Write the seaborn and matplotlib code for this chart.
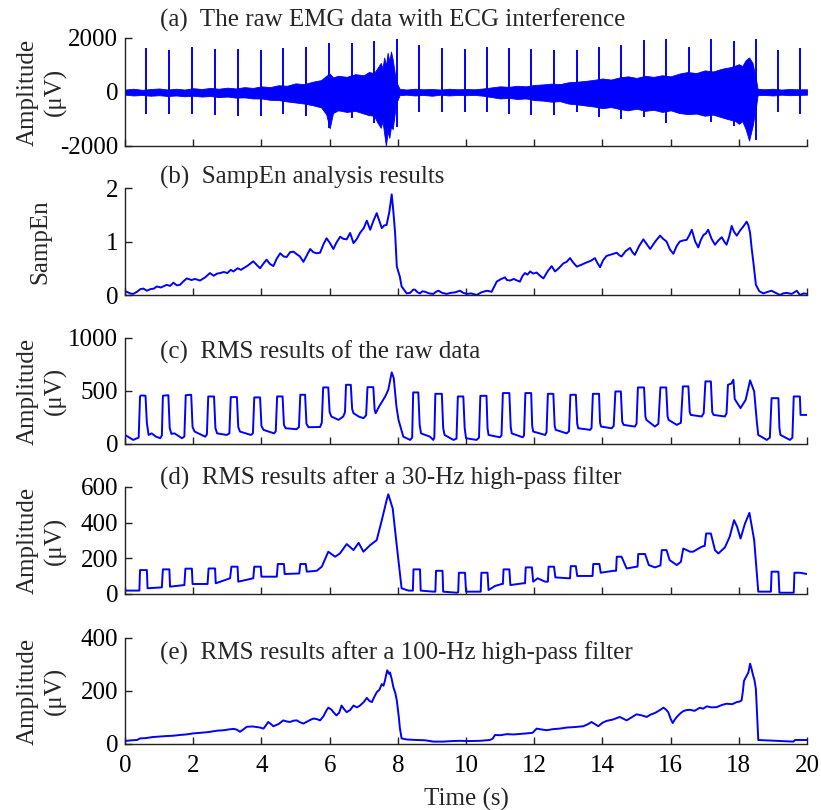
import numpy as np
import matplotlib
matplotlib.use("Agg")
import matplotlib.pyplot as plt
import seaborn as sns
import pandas as pd

# ---- (a) raw EMG: envelope of the dense EMG band + ECG spikes ----
emg_t = [0.00, 0.25, 0.50, 0.75, 1.00, 1.25, 1.50, 1.75, 2.00, 2.25, 2.50, 2.75,
         3.00, 3.25, 3.50, 3.75, 4.00, 4.25, 4.50, 4.75, 5.00, 5.25, 5.50, 5.75,
         5.90, 6.00, 6.10, 6.25, 6.50, 6.75, 7.00, 7.15, 7.30, 7.40, 7.50, 7.55,
         7.60, 7.65, 7.70, 7.75, 7.80, 7.85, 7.90, 7.95, 8.05, 8.25, 8.50, 8.75,
         9.00, 9.25, 9.50, 9.75, 10.00, 10.25, 10.50, 10.75, 11.00, 11.25, 11.50,
         11.75, 12.00, 12.25, 12.50, 12.75, 13.00, 13.25, 13.50, 13.75, 14.00,
         14.25, 14.50, 14.75, 15.00, 15.25, 15.50, 15.75, 16.00, 16.25, 16.50,
         16.75, 17.00, 17.25, 17.50, 17.75, 17.90, 18.00, 18.10, 18.20, 18.30,
         18.40, 18.50, 18.55, 18.75, 19.00, 19.25, 19.50, 19.75, 20.00]
emg_hi = [90, 120, 80, 110, 130, 90, 120, 90, 140, 110, 150, 120,
          160, 130, 180, 150, 210, 180, 250, 230, 320, 290, 380, 440,
          600, 680, 540, 600, 560, 660, 620, 740, 700, 880, 1080, 880,
          1280, 980, 1450, 1150, 1500, 1200, 780, 380, 120, 90, 120, 100,
          110, 90, 120, 100, 110, 100, 130, 170, 210, 190, 230,
          210, 260, 280, 310, 290, 360, 380, 410, 450, 500,
          460, 540, 580, 520, 600, 560, 620, 580, 680, 740,
          700, 800, 760, 860, 920, 980, 1030, 960, 1180, 1280,
          1080, 480, 120, 100, 120, 90, 110, 100, 100]
emg_lo = [-100, -130, -110, -140, -120, -150, -130, -160, -140, -170, -150, -190,
          -170, -210, -200, -240, -240, -290, -300, -350, -390, -430, -490, -570,
          -830, -1350, -780, -680, -740, -700, -800, -860, -880, -1130, -1330, -1080,
          -1550, -2000, -1480, -1700, -1280, -1380, -880, -420, -120, -100, -130, -110,
          -140, -100, -130, -110, -120, -110, -140, -190, -240, -220, -260,
          -240, -300, -320, -360, -340, -430, -460, -500, -540, -600,
          -560, -630, -680, -620, -700, -660, -740, -680, -780, -820,
          -800, -880, -840, -940, -1030, -1080, -1180, -1080, -1380, -1800,
          -1280, -580, -120, -110, -130, -100, -120, -110, -100]

beat_t = [0.61, 1.29, 1.96, 2.63, 3.30, 3.98, 4.64, 5.31, 5.99, 6.66, 7.30, 7.97,
          8.63, 9.30, 9.96, 10.61, 11.26, 11.91, 12.57, 13.24, 13.89, 14.55,
          15.22, 15.87, 16.53, 17.19, 17.85, 18.50, 19.15, 19.79]
beat_peak = [1630, 1570, 1660, 1590, 1590, 1540, 1630, 1650, 1810, 1810, 1880, 1960,
             1730, 1630, 1590, 1650, 1630, 1590, 1570, 1570, 1650, 1730,
             1940, 1960, 1660, 1960, 1880, 1960, 1570, 1630]
beat_trough = [-800, -820, -820, -850, -880, -900, -820, -900, -1350, -980, -1150, -1300,
               -730, -730, -730, -730, -800, -850, -850, -730, -920, -1000,
               -920, -1140, -800, -1100, -1260, -1790, -730, -800]

# ---- (b) SampEn ----
se_t = [0.00, 0.05, 0.15, 0.24, 0.35, 0.45, 0.54, 0.64, 0.75, 0.85, 0.93, 1.05,
        1.22, 1.32, 1.42, 1.52, 1.61, 1.72, 1.81, 1.95, 2.05, 2.20, 2.35, 2.49,
        2.60, 2.70, 2.79, 2.90, 3.00, 3.10, 3.18, 3.30, 3.40, 3.47, 3.60, 3.70,
        3.76, 3.85, 3.96, 4.05, 4.15, 4.25, 4.35, 4.45, 4.55, 4.65, 4.74, 4.84,
        4.94, 5.04, 5.13, 5.23, 5.33, 5.43, 5.52, 5.62, 5.72, 5.82, 5.91, 6.00,
        6.11, 6.20, 6.31, 6.40, 6.50, 6.60, 6.70, 6.80, 6.89, 7.00, 7.09, 7.19,
        7.28, 7.38, 7.45, 7.53, 7.60, 7.67, 7.75, 7.82, 7.87, 7.92, 7.97, 8.06,
        8.11, 8.20, 8.26, 8.36, 8.45, 8.50, 8.58, 8.65, 8.72, 8.80, 8.92, 9.04,
        9.12, 9.19, 9.30, 9.43, 9.55, 9.68, 9.82, 9.92, 10.02, 10.15, 10.31,
        10.45, 10.61, 10.68, 10.75, 10.82, 10.90, 11.00, 11.14, 11.20, 11.29,
        11.40, 11.50, 11.58, 11.66, 11.73, 11.80, 11.88, 11.97, 12.07, 12.17,
        12.27, 12.40, 12.51, 12.61, 12.72, 12.85, 12.95, 13.05, 13.15, 13.25,
        13.40, 13.54, 13.66, 13.78, 13.85, 13.93, 14.02, 14.12, 14.27, 14.42,
        14.50, 14.56, 14.68, 14.81, 14.88, 14.95, 15.08, 15.20, 15.30, 15.40,
        15.55, 15.69, 15.78, 15.88, 15.98, 16.08, 16.18, 16.27, 16.37, 16.47,
        16.55, 16.62, 16.72, 16.81, 16.88, 16.96, 17.03, 17.10, 17.20, 17.30,
        17.40, 17.50, 17.57, 17.64, 17.72, 17.79, 17.86, 17.94, 18.03, 18.13,
        18.23, 18.28, 18.33, 18.38, 18.43, 18.50, 18.60, 18.72, 18.85, 18.96,
        19.08, 19.21, 19.30, 19.40, 19.55, 19.65, 19.70, 19.79, 19.90, 20.00]
se_v = [0.06, 0.06, 0.03, 0.02, 0.06, 0.11, 0.12, 0.08, 0.11, 0.12, 0.16, 0.14,
        0.19, 0.17, 0.23, 0.18, 0.19, 0.26, 0.31, 0.28, 0.30, 0.27, 0.33, 0.41,
        0.36, 0.40, 0.41, 0.43, 0.41, 0.47, 0.44, 0.50, 0.47, 0.50, 0.55, 0.60,
        0.63, 0.57, 0.50, 0.58, 0.66, 0.58, 0.54, 0.68, 0.78, 0.72, 0.71, 0.80,
        0.81, 0.76, 0.72, 0.62, 0.74, 0.86, 0.80, 0.78, 0.79, 0.95, 1.06, 0.98,
        0.86, 0.98, 1.09, 1.05, 1.04, 1.16, 0.97, 1.05, 1.16, 1.25, 1.39, 1.22,
        1.38, 1.53, 1.40, 1.25, 1.30, 1.31, 1.55, 1.88, 1.55, 1.16, 0.53, 0.34,
        0.16, 0.08, 0.03, 0.04, 0.10, 0.10, 0.05, 0.03, 0.07, 0.06, 0.03, 0.02,
        0.06, 0.08, 0.04, 0.02, 0.04, 0.05, 0.08, 0.04, 0.02, 0.03, 0.00,
        0.05, 0.08, 0.07, 0.06, 0.15, 0.25, 0.29, 0.33, 0.28, 0.27,
        0.30, 0.27, 0.25, 0.36, 0.41, 0.38, 0.44, 0.40, 0.42, 0.36,
        0.31, 0.45, 0.54, 0.44, 0.50, 0.59, 0.62, 0.69, 0.60, 0.53,
        0.57, 0.61, 0.64, 0.69, 0.60, 0.52, 0.65, 0.73, 0.76, 0.79,
        0.74, 0.72, 0.82, 0.88, 0.80, 0.75, 0.92, 1.04, 0.95, 0.86,
        1.00, 1.11, 1.05, 1.00, 0.85, 0.77, 0.92, 1.00, 1.02, 1.03,
        1.12, 1.22, 1.00, 0.89, 1.02, 1.12, 1.15, 1.22, 1.05, 0.94,
        1.02, 1.08, 1.00, 0.94, 1.10, 1.29, 1.18, 1.11, 1.20, 1.28,
        1.37, 1.30, 1.16, 0.85, 0.59, 0.19, 0.07, 0.03, 0.06, 0.08,
        0.04, 0.00, 0.03, 0.04, 0.02, 0.06, 0.08, 0.00, 0.03, 0.02]

# ---- (c) RMS of raw data ----
rc_t = [0.00, 0.24, 0.40, 0.44, 0.47, 0.60, 0.64, 0.69, 0.78, 0.90, 1.03, 1.08, 1.11,
        1.27, 1.31, 1.36, 1.45, 1.67, 1.74, 1.78, 1.94, 1.98, 2.04, 2.35, 2.40,
        2.44, 2.61, 2.65, 2.70, 2.98, 3.06, 3.10, 3.28, 3.32, 3.37, 3.69, 3.75,
        3.79, 3.96, 4.00, 4.06, 4.37, 4.42, 4.46, 4.62, 4.66, 4.71, 5.03, 5.10,
        5.14, 5.28, 5.32, 5.38, 5.72, 5.77, 5.81, 5.96, 6.00, 6.05, 6.26, 6.40,
        6.45, 6.48, 6.62, 6.66, 6.70, 6.85, 6.99, 7.07, 7.11, 7.28, 7.32, 7.35,
        7.45, 7.63, 7.72, 7.82, 7.88, 7.96, 8.02, 8.16, 8.36, 8.42, 8.45, 8.60,
        8.64, 8.68, 8.94, 9.04, 9.07, 9.10, 9.29, 9.33, 9.37, 9.63, 9.72, 9.76,
        9.92, 9.96, 10.00, 10.31, 10.38, 10.42, 10.60, 10.63, 10.66, 10.99, 11.04,
        11.08, 11.27, 11.31, 11.34, 11.66, 11.70, 11.74, 11.91, 11.94, 11.97,
        12.32, 12.36, 12.40, 12.56, 12.60, 12.63, 12.95, 13.02, 13.06, 13.22,
        13.26, 13.29, 13.64, 13.68, 13.72, 13.90, 13.93, 13.96, 14.27, 14.33,
        14.38, 14.54, 14.58, 14.62, 14.95, 15.00, 15.04, 15.22, 15.26, 15.29,
        15.54, 15.64, 15.70, 15.87, 15.91, 15.94, 16.18, 16.30, 16.36, 16.52,
        16.56, 16.59, 16.91, 16.97, 17.02, 17.18, 17.22, 17.26, 17.59, 17.64,
        17.68, 17.78, 17.84, 17.88, 18.05, 18.20, 18.33, 18.45, 18.53, 18.57,
        18.82, 18.91, 18.96, 19.16, 19.19, 19.22, 19.50, 19.57, 19.61, 19.79,
        19.81, 19.99]
rc_v = [85, 38, 60, 450, 458, 455, 200, 85, 100, 70, 54, 80, 455,
        460, 150, 95, 100, 54, 70, 460, 464, 160, 117, 69, 90,
        448, 448, 150, 100, 85, 100, 442, 442, 160, 117, 85, 100,
        439, 439, 170, 133, 100, 120, 448, 448, 180, 148, 139, 160,
        464, 464, 190, 158, 160, 200, 533, 533, 300, 259, 227, 259,
        300, 558, 558, 330, 290, 259, 243, 270, 536, 536, 320, 290,
        353, 448, 511, 675, 621, 350, 227, 69, 38, 60, 486, 486,
        180, 100, 69, 38, 60, 473, 473, 150, 85, 38, 50, 448,
        448, 150, 54, 38, 60, 454, 454, 150, 85, 63, 80,
        480, 480, 160, 100, 63, 80, 480, 480, 170, 117,
        85, 110, 473, 473, 170, 133, 100, 120, 464, 464,
        190, 148, 133, 150, 473, 473, 200, 164, 148, 170,
        495, 495, 210, 180, 164, 190, 533, 533, 260, 227,
        164, 190, 533, 533, 260, 227, 180, 200, 543, 543,
        300, 274, 259, 290, 590, 590, 300, 274, 259, 290,
        558, 570, 606, 423, 338, 416, 600, 495, 200, 85,
        38, 60, 432, 432, 150, 85, 38, 60, 448, 448,
        274, 274]

# ---- (d) RMS after 30-Hz high-pass ----
rd_t = [0.00, 0.42, 0.44, 0.64, 0.66, 1.08, 1.11, 1.30, 1.32, 1.74, 1.77, 1.96, 1.98,
        2.42, 2.45, 2.64, 2.66, 3.08, 3.12, 3.30, 3.32, 3.76, 3.79, 3.98, 4.00,
        4.45, 4.48, 4.66, 4.68, 5.11, 5.14, 5.30, 5.33, 5.62, 5.77, 5.96, 6.16,
        6.30, 6.50, 6.70, 6.85, 6.99, 7.19, 7.38, 7.53, 7.67, 7.72, 7.85, 7.94,
        8.11, 8.31, 8.44, 8.46, 8.65, 8.67, 9.04, 9.10, 9.12, 9.31, 9.33, 9.73,
        9.77, 9.79, 9.97, 10.00, 10.43, 10.45, 10.63, 10.66, 10.85, 11.05, 11.08,
        11.10, 11.27, 11.30, 11.68, 11.73, 11.75, 11.93, 11.97, 12.10, 12.32,
        12.40, 12.42, 12.58, 12.62, 13.00, 13.05, 13.07, 13.22, 13.26, 13.71,
        13.73, 13.91, 13.95, 14.32, 14.40, 14.42, 14.56, 14.71, 15.00, 15.03,
        15.05, 15.25, 15.36, 15.54, 15.70, 15.74, 15.88, 15.97, 16.18, 16.30,
        16.37, 16.57, 16.66, 16.91, 17.00, 17.04, 17.18, 17.30, 17.40, 17.59,
        17.73, 17.86, 17.95, 18.05, 18.18, 18.31, 18.45, 18.57, 18.94, 18.96,
        19.16, 19.19, 19.61, 19.63, 19.80, 19.99]
rd_v = [19, 19, 134, 134, 32, 37, 138, 138, 41, 50, 142, 142, 56,
        56, 143, 143, 60, 88, 153, 153, 69, 88, 153, 153, 97,
        97, 168, 168, 112, 115, 168, 168, 125, 130, 153, 237, 209,
        227, 280, 246, 287, 237, 274, 302, 414, 525, 559, 479, 320,
        32, 19, 19, 138, 138, 19, 13, 13, 130, 130, 13, 7,
        10, 119, 119, 13, 13, 119, 119, 22, 45, 56, 56,
        138, 138, 50, 60, 60, 149, 149, 69, 88, 69,
        69, 153, 153, 93, 88, 88, 156, 156, 101, 101,
        168, 168, 119, 130, 130, 209, 209, 143, 153, 153,
        224, 224, 162, 149, 160, 246, 246, 190, 162, 180,
        255, 237, 237, 265, 270, 339, 339, 246, 227, 261,
        320, 414, 376, 311, 395, 455, 302, 13, 13, 125,
        125, 7, 7, 119, 119, 112]

# ---- (e) RMS after 100-Hz high-pass ----
re_t = [0.00, 0.05, 0.20, 0.35, 0.44, 0.60, 0.80, 1.00, 1.22, 1.40, 1.61, 1.80,
        2.00, 2.20, 2.45, 2.69, 2.90, 3.05, 3.18, 3.28, 3.37, 3.47, 3.57, 3.75,
        3.96, 4.06, 4.13, 4.20, 4.27, 4.35, 4.50, 4.64, 4.74, 4.84, 4.94, 5.04,
        5.13, 5.23, 5.35, 5.45, 5.53, 5.62, 5.72, 5.82, 5.90, 5.96, 6.05, 6.11,
        6.20, 6.28, 6.35, 6.42, 6.50, 6.60, 6.70, 6.80, 6.89, 7.00, 7.09, 7.17,
        7.24, 7.30, 7.38, 7.46, 7.53, 7.58, 7.62, 7.66, 7.69, 7.74, 7.77, 7.82,
        7.87, 7.93, 7.97, 8.03, 8.06, 8.11, 8.26, 8.55, 8.80, 9.04, 9.33, 9.60,
        9.82, 10.10, 10.41, 10.70, 10.78, 10.85, 11.00, 11.19, 11.40, 11.60,
        11.78, 11.95, 12.07, 12.20, 12.37, 12.55, 12.75, 12.95, 13.20, 13.44,
        13.58, 13.68, 13.78, 13.88, 14.00, 14.12, 14.30, 14.51, 14.60, 14.71,
        14.85, 15.00, 15.15, 15.30, 15.40, 15.54, 15.65, 15.79, 15.86, 15.93,
        16.00, 16.06, 16.12, 16.18, 16.28, 16.37, 16.47, 16.57, 16.70, 16.86,
        16.95, 17.06, 17.20, 17.35, 17.50, 17.64, 17.80, 17.94, 18.02, 18.08,
        18.12, 18.15, 18.22, 18.28, 18.33, 18.37, 18.41, 18.46, 18.50, 18.54,
        18.57, 19.11, 19.60, 19.65, 19.99]
re_v = [12, 12, 14, 15, 21, 22, 26, 28, 30, 31, 34, 36,
        40, 42, 45, 50, 52, 55, 57, 54, 46, 55, 65, 66,
        62, 58, 70, 83, 76, 67, 75, 89, 85, 83, 88, 89,
        82, 77, 85, 92, 96, 94, 89, 105, 125, 137, 130, 120,
        108, 118, 145, 132, 120, 128, 145, 138, 145, 158, 174, 162,
        158, 175, 195, 205, 226, 220, 238, 262, 278, 265, 270, 245,
        214, 190, 164, 100, 60, 21, 17, 15, 14, 9, 9, 11,
        12, 11, 12, 15, 20, 34, 33, 37, 36, 38,
        40, 42, 58, 55, 52, 56, 58, 62, 64, 67,
        75, 83, 75, 67, 80, 87, 92, 102, 96, 89,
        100, 112, 108, 102, 110, 117, 125, 137, 130, 120,
        95, 79, 92, 102, 115, 124, 128, 129, 125, 137,
        133, 142, 138, 139, 147, 152, 150, 158, 160, 164,
        200, 238, 255, 270, 303, 285, 263, 240, 207, 100,
        15, 12, 9, 15, 15]

panels = [
    ("(a)  The raw EMG data with ECG interference", "Amplitude\n(μV)", (-2000, 2000), [-2000, 0, 2000], 1.167),
    ("(b)  SampEn analysis results", "SampEn", (0, 2), [0, 1, 2], 1.103),
    ("(c)  RMS results of the raw data", "Amplitude\n(μV)", (0, 1000), [0, 500, 1000], 0.868),
    ("(d)  RMS results after a 30-Hz high-pass filter", "Amplitude\n(μV)", (0, 600), [0, 200, 400, 600], 1.084),
    ("(e)  RMS results after a 100-Hz high-pass filter", "Amplitude\n(μV)", (0, 400), [0, 200, 400], 0.86),
]
series = [None,
          pd.DataFrame({"t": se_t, "v": se_v}),
          pd.DataFrame({"t": rc_t, "v": rc_v}),
          pd.DataFrame({"t": rd_t, "v": rd_v}),
          pd.DataFrame({"t": re_t, "v": re_v})]

sns.set_theme(style="ticks")
plt.rcParams["font.family"] = ["Liberation Serif", "DejaVu Serif"]
plt.rcParams["axes.unicode_minus"] = False
plt.rcParams["font.size"] = 18

fig = plt.figure(figsize=(8.21, 8.10), dpi=100)
bottoms = [0.8198, 0.6358, 0.4519, 0.2667, 0.0815]
heights = [0.1333, 0.1321, 0.1309, 0.1321, 0.1309]
blue = "#0000ff"

for i, (title, ylab, ylim, yticks, ty) in enumerate(panels):
    ax = fig.add_axes([0.1523, bottoms[i], 0.8307, heights[i]])
    if i == 0:
        ax.fill_between(emg_t, emg_lo, emg_hi, color=blue, linewidth=0.6)
        ax.vlines(beat_t, beat_trough, beat_peak, color=blue, linewidth=1.4)
    else:
        sns.lineplot(data=series[i], x="t", y="v", ax=ax, color=blue,
                     linewidth=1.4, estimator=None, sort=False)
    ax.set_xlim(0, 20)
    ax.set_ylim(*ylim)
    ax.set_yticks(yticks)
    ax.set_xticks(range(0, 21, 2))
    sns.despine(ax=ax)
    for s in ["left", "bottom"]:
        ax.spines[s].set_color("#222222")
        ax.spines[s].set_linewidth(1.0)
    ax.tick_params(direction="in", length=5, width=1.0, colors="#222222",
                   labelcolor="black", labelsize=18)
    ax.tick_params(axis="y", pad=5)
    ax.tick_params(axis="x", pad=8)
    if i < 4:
        ax.set_xticklabels([])
        ax.set_xlabel("")
    else:
        ax.set_xlabel("Time (s)", fontsize=18, labelpad=8)
    ax.set_ylabel(ylab, fontsize=18, linespacing=1.3)
    if i == 1:
        ax.yaxis.set_label_coords(-0.108, 0.5)
    else:
        ax.yaxis.set_label_coords(-0.085, 0.5)
    ax.text(0.051, ty, title, transform=ax.transAxes, fontsize=18,
            ha="left", va="center")
    ax.patch.set_alpha(0)

fig.savefig("out.png", dpi=100)
